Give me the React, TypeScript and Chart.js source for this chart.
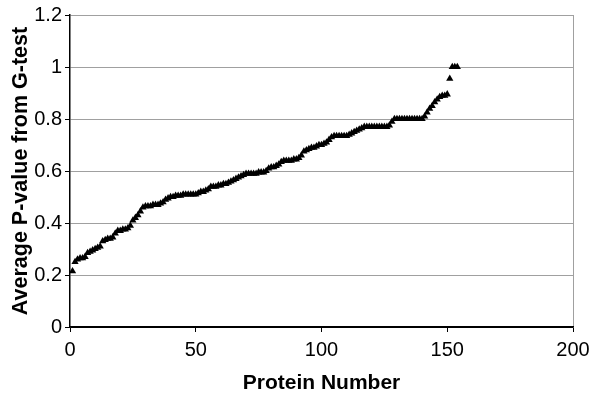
import React, { useEffect, useRef } from "react";
import { Chart, registerables } from "chart.js";

Chart.register(...registerables);

// Average P-value from G-test for each protein (sorted), protein number = index + 1
const pValues: number[] = [
  0.215, 0.25, 0.26, 0.265, 0.265, 0.27, 0.285, 0.29, 0.295, 0.30,
  0.305, 0.31, 0.33, 0.335, 0.34, 0.34, 0.345, 0.36, 0.37, 0.37,
  0.375, 0.375, 0.38, 0.39, 0.41, 0.42, 0.43, 0.445, 0.46, 0.465,
  0.465, 0.465, 0.47, 0.47, 0.47, 0.475, 0.48, 0.49, 0.495, 0.50,
  0.50, 0.505, 0.505, 0.505, 0.51, 0.51, 0.51, 0.51, 0.51, 0.51,
  0.515, 0.52, 0.52, 0.525, 0.53, 0.54, 0.54, 0.54, 0.545, 0.545,
  0.55, 0.55, 0.555, 0.56, 0.565, 0.57, 0.575, 0.58, 0.585, 0.59,
  0.59, 0.59, 0.59, 0.59, 0.595, 0.595, 0.595, 0.60, 0.61, 0.615,
  0.615, 0.62, 0.625, 0.635, 0.64, 0.64, 0.64, 0.64, 0.645, 0.645,
  0.65, 0.66, 0.675, 0.68, 0.685, 0.69, 0.69, 0.695, 0.70, 0.70,
  0.705, 0.71, 0.72, 0.73, 0.735, 0.735, 0.735, 0.735, 0.735, 0.735,
  0.74, 0.745, 0.75, 0.755, 0.76, 0.765, 0.77, 0.77, 0.77, 0.77,
  0.77, 0.77, 0.77, 0.77, 0.77, 0.77, 0.775, 0.79, 0.80, 0.80,
  0.80, 0.80, 0.80, 0.80, 0.80, 0.80, 0.80, 0.80, 0.80, 0.80,
  0.81, 0.825, 0.84, 0.85, 0.865, 0.875, 0.885, 0.89, 0.89, 0.895,
  0.955, 1.0, 1.0, 1.0,
];

const xTitle = "Protein Number";
const yTitle = "Average P-value from G-test";
const xMin = 0;
const xMax = 200;
const xStep = 50;
const yMin = 0;
const yMax = 1.2;
const yStep = 0.2;

export default function App() {
  const canvasRef = useRef<HTMLCanvasElement | null>(null);

  useEffect(() => {
    if (!canvasRef.current) return;
    const points = pValues.map((v, i) => ({ x: i + 1, y: v }));
    const font = "'Liberation Sans', Arial, sans-serif";
    const chart = new Chart(canvasRef.current, {
      type: "scatter",
      data: {
        datasets: [
          {
            data: points,
            pointStyle: "triangle",
            pointRadius: 4.2,
            backgroundColor: "#000",
            borderColor: "#000",
            borderWidth: 0,
          },
        ],
      },
      options: {
        animation: false,
        responsive: false,
        maintainAspectRatio: false,
        layout: { padding: { left: 0, right: 27, top: 11, bottom: 0 } },
        plugins: { legend: { display: false }, tooltip: { enabled: false } },
        scales: {
          x: {
            type: "linear",
            min: xMin,
            max: xMax,
            ticks: {
              stepSize: xStep,
              color: "#000",
              padding: 6,
              font: { family: font, size: 20 },
              maxRotation: 0,
            },
            grid: {
              drawOnChartArea: true,
              color: (ctx: any) =>
                ctx.tick && ctx.tick.value === xMax ? "#a0a0a0" : "rgba(0,0,0,0)",
              tickColor: "#000",
              tickLength: 5,
            },
            border: { color: "#000", width: 1.5 },
            title: {
              display: true,
              text: xTitle,
              color: "#000",
              font: { family: font, size: 21, weight: "bold" },
              padding: { top: 0, bottom: 7 },
            },
            afterFit: (scale: any) => {
              scale.height = 76;
            },
          },
          y: {
            type: "linear",
            min: yMin,
            max: yMax,
            ticks: {
              stepSize: yStep,
              color: "#000",
              padding: 3,
              font: { family: font, size: 20 },
              callback: (v: any) => String(Math.round(Number(v) * 10) / 10),
            },
            grid: {
              color: (ctx: any) =>
                ctx.tick && ctx.tick.value === 0 ? "#000" : "#a0a0a0",
              tickColor: "#000",
              tickLength: 5,
            },
            border: { color: "#000", width: 1.5 },
            title: {
              display: true,
              text: yTitle,
              color: "#000",
              font: { family: font, size: 21.5, weight: "bold" },
              padding: { top: 8, bottom: 0 },
            },
            afterFit: (scale: any) => {
              scale.width = 70;
            },
          },
        },
      },
    });
    return () => chart.destroy();
  }, []);

  return (
    <div
      style={{
        position: "fixed",
        left: 0,
        top: 0,
        width: 600,
        height: 403,
        background: "#fff",
      }}
    >
      <canvas ref={canvasRef} width={600} height={403} />
    </div>
  );
}
